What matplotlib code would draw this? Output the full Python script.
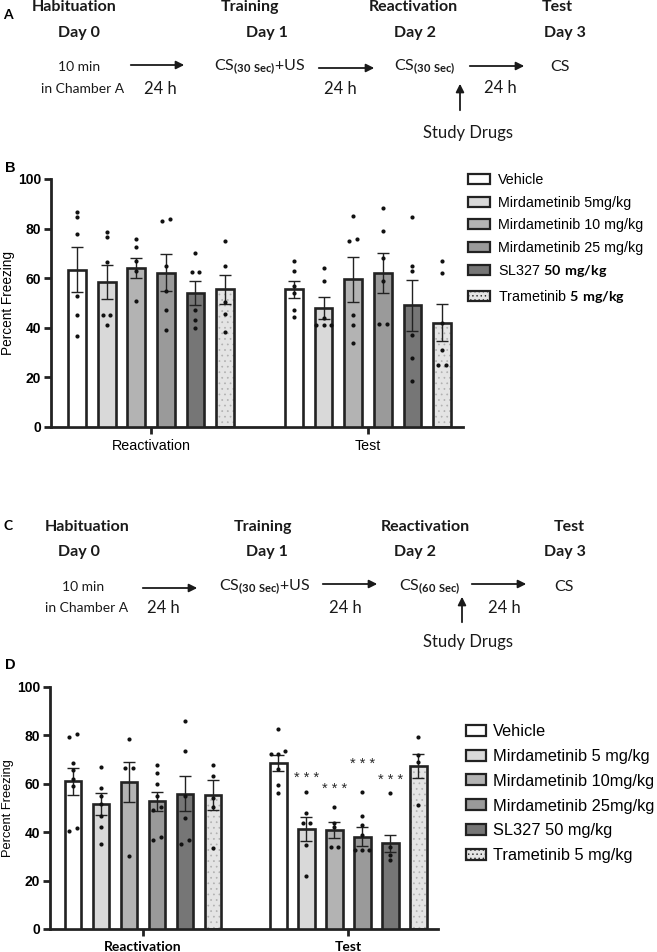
import numpy as np
import matplotlib
matplotlib.use("Agg")
import matplotlib.pyplot as plt
from matplotlib.patches import Patch, FancyArrowPatch

plt.rcParams['font.family'] = ['Liberation Sans', 'DejaVu Sans']
plt.rcParams['mathtext.fontset'] = 'custom'
plt.rcParams['mathtext.rm'] = 'Lato'
plt.rcParams['mathtext.bf'] = 'Lato:bold'
plt.rcParams['hatch.linewidth'] = 0.5

# ---- data ----
colors = ['#ffffff', '#d9d9d9', '#b3b3b3', '#9a9a9a', '#767676', '#e4e4e4']
labels_b = ["Vehicle", "Mirdametinib 5mg/kg", "Mirdametinib 10 mg/kg",
            "Mirdametinib 25 mg/kg", r"SL327 $\mathbf{50\ mg/kg}$",
            r"Trametinib $\mathbf{5\ mg/kg}$"]
labels_d = ["Vehicle", "Mirdametinib 5 mg/kg", "Mirdametinib 10mg/kg",
            "Mirdametinib 25mg/kg", "SL327 50 mg/kg", "Trametinib 5 mg/kg"]
phases = ["Reactivation", "Test"]

# panel B (30 s reactivation)
b_react_mean = [63.5, 58.5, 64.2, 62.2, 54.0, 55.5]
b_react_sem = [9.0, 7.0, 4.0, 7.5, 5.0, 5.8]
b_react_pts = [[86.5, 84.5, 78, 53, 45, 36.5],
               [78.5, 76.5, 66.5, 45, 45, 41],
               [76, 72.5, 67, 63, 51],
               [83, 84, 65, 55, 47, 39],
               [70, 62.5, 62.5, 47, 43, 40],
               [75, 65, 50.5, 45.5, 38.5]]
b_test_mean = [55.5, 48.0, 59.5, 62.2, 49.0, 42.0]
b_test_sem = [3.5, 4.5, 9.0, 8.0, 10.3, 7.5]
b_test_pts = [[67, 63, 57, 54, 47, 44.5],
              [64, 59, 44, 41, 41, 41],
              [85, 76, 75, 45, 41, 34],
              [88.5, 79, 68, 59, 41.5, 41.5],
              [84.5, 65, 63, 37, 28, 18.5],
              [67, 62, 42, 31, 25, 25]]

# panel D (60 s reactivation)
d_react_mean = [61.0, 51.7, 60.7, 52.7, 55.9, 55.2]
d_react_sem = [5.5, 4.6, 8.2, 4.1, 7.3, 6.2]
d_react_pts = [[80.6, 79.3, 68.6, 65.8, 62, 58.9, 41.9, 40.3],
               [66.9, 58.2, 54.8, 51.7, 46.5, 42.3, 35.2],
               [78.6, 66.5, 66.5, 30.2],
               [67.6, 64.4, 60, 54.8, 50.6, 49, 38.2, 36.8],
               [85.8, 73.7, 54.8, 45.8, 36.8, 35.2],
               [67.6, 63.3, 54.1, 50.6, 33.4]]
d_test_mean = [68.6, 41.4, 41.0, 38.2, 35.4, 67.2]
d_test_sem = [3.3, 5.0, 3.2, 4.1, 3.6, 5.0]
d_test_pts = [[82.8, 73.4, 72.2, 72.2, 66, 59.3, 56.1],
              [56.8, 47.9, 44, 44, 34.8, 21.7],
              [50.6, 44, 42, 34, 34],
              [56.8, 46.5, 43, 38.9, 32.7, 32.7, 32.7],
              [56.1, 34, 30.6, 28.5],
              [79.2, 72, 69.2, 51.3]]
d_test_sig = ['', '* * *', '* * *', '* * *', '* * *', '']
d_test_sig_y = [np.nan, 62.6, 58, 68.3, 61.7, np.nan]

W, H = 657, 952
fig = plt.figure(figsize=(W / 100, H / 100), dpi=100)


def fx(x):
    return x / W


def fy(y):
    return 1 - y / H


def swarm(vals, step=0.26):
    # spread points that sit at about the same height
    vals = np.asarray(vals, float)
    order = np.argsort(vals)
    offs = np.zeros(len(vals))
    clusters = [[order[0]]]
    for i in order[1:]:
        if vals[i] - vals[clusters[-1][-1]] < 2.0:
            clusters[-1].append(i)
        else:
            clusters.append([i])
    for c in clusters:
        n = len(c)
        for k, i in enumerate(c):
            offs[i] = (k - (n - 1) / 2) * step
    return offs


def bar_panel(ax, means, sems, pts, gap, xlim, tfs):
    react_x = np.arange(6)
    test_x = np.arange(6) + gap
    for xs, m, s, p in [(react_x, means[0], sems[0], pts[0]),
                        (test_x, means[1], sems[1], pts[1])]:
        for i in range(6):
            if i == 5:
                ax.bar(xs[i], m[i], width=0.6, color=colors[i], edgecolor='#b0b0b0',
                       linewidth=0, hatch='...', zorder=2)
                ax.bar(xs[i], m[i], width=0.6, fill=False, edgecolor='#222222',
                       linewidth=1.9, zorder=3)
            else:
                ax.bar(xs[i], m[i], width=0.6, color=colors[i], edgecolor='#222222',
                       linewidth=1.9, zorder=3)
        ax.errorbar(xs, m, yerr=s, fmt='none', ecolor='#222222', elinewidth=1.0,
                    capsize=4.5, capthick=1.0, zorder=4)
        for i in range(6):
            ax.scatter(xs[i] + swarm(p[i]), p[i], s=9, color='#111111', zorder=5,
                       linewidths=0)
    ax.set_xlim(*xlim)
    ax.set_ylim(0, 100)
    ax.set_yticks([0, 20, 40, 60, 80, 100])
    ax.set_xticks([react_x.mean(), test_x.mean()])
    ax.spines['top'].set_visible(False)
    ax.spines['right'].set_visible(False)
    for sp in ['left', 'bottom']:
        ax.spines[sp].set_linewidth(2.0)
        ax.spines[sp].set_color('#222222')
    ax.tick_params(axis='both', width=2.0, length=5, color='#222222')
    ax.tick_params(axis='y', pad=2)
    for t in ax.get_yticklabels():
        t.set_fontweight('bold')
        t.set_fontsize(10)
    ax.set_ylabel("Percent Freezing", fontsize=tfs, labelpad=2)
    return react_x, test_x


# ---- panel B ----
axB = fig.add_axes([fx(51), fy(427), fx(412), 248 / H])
bar_panel(axB, (b_react_mean, b_test_mean), (b_react_sem, b_test_sem),
          (b_react_pts, b_test_pts), 7.33, (-0.88, 13.04), 9.8)
axB.set_xticklabels(phases, fontsize=10.3)

# ---- panel D ----
axD = fig.add_axes([fx(50), fy(929), fx(388), 242 / H])
rx, tx = bar_panel(axD, (d_react_mean, d_test_mean), (d_react_sem, d_test_sem),
                   (d_react_pts, d_test_pts), 7.33, (-0.82, 13.04), 9.3)
axD.set_xticklabels(phases, fontsize=10, fontweight='bold', family='Lato')
for i in range(6):
    if d_test_sig[i]:
        axD.text(tx[i], d_test_sig_y[i], d_test_sig[i], ha='center', va='center',
                 fontsize=10.5, color='#2a2a2a')


# ---- legends ----
def handles():
    hs = []
    for i, c in enumerate(colors):
        hs.append(Patch(facecolor=c, edgecolor='#222222', linewidth=1.6,
                        hatch='....' if i == 5 else None))
    return hs


fig.legend(handles(), labels_b, loc='upper left', bbox_to_anchor=(fx(468), fy(173)),
           frameon=False, fontsize=10.3, handlelength=1.55, handleheight=0.7,
           handletextpad=0.55, labelspacing=0.6, borderpad=0, borderaxespad=0)
fig.legend(handles(), labels_d, loc='upper left', bbox_to_anchor=(fx(466), fy(724)),
           frameon=False, fontsize=11.8, handlelength=1.2, handleheight=0.65,
           handletextpad=0.45, labelspacing=0.6, borderpad=0, borderaxespad=0)


# ---- protocol timelines ----
def txt(x, y, s, size, bold=False):
    fig.text(fx(x), fy(y), s, ha='center', va='center', fontsize=size,
             fontweight='bold' if bold else 'normal', family='Lato', color='#1a1a1a')


def arrow(x0, y0, x1, y1):
    fig.add_artist(FancyArrowPatch(
        (fx(x0), fy(y0)), (fx(x1), fy(y1)), transform=fig.transFigure,
        arrowstyle='-|>', mutation_scale=12, lw=1.3, color='#1a1a1a'))


def timeline(heads_x, days_x, rows_y, left_x, cs_x, cs2):
    yt, yd, yc, yh = rows_y
    for x, s in zip(heads_x, ["Habituation", "Training", "Reactivation", "Test"]):
        txt(x, yt, s, 11.5, True)
    for x, s in zip(days_x, ["Day 0", "Day 1", "Day 2", "Day 3"]):
        txt(x, yd, s, 11.5, True)
    txt(left_x[0], yc, "10 min", 10)
    txt(left_x[1], yh, "in Chamber A", 10)
    txt(cs_x[0], yc, r"CS$_{\mathbf{(30\ Sec)}}$+US", 11.5)
    txt(cs_x[1], yc, cs2, 11.5)
    txt(cs_x[2], yc, "CS", 11.5)


# panel A
fig.text(fx(3), fy(15), "A", fontsize=10, fontweight='bold', va='center', family='Lato')
timeline((74, 250, 413, 557), (79, 267, 415, 565), (7, 33, 67, 89), (79, 83),
         (260, 425, 560), r"CS$_{\mathbf{(30\ Sec)}}$")
arrow(128, 65, 187, 65)
arrow(316, 68, 377, 68)
arrow(467, 66, 527, 66)
txt(160, 89, "24 h", 12)
txt(340, 89, "24 h", 12)
txt(500, 88, "24 h", 12)
arrow(460, 113, 460, 81)
txt(468, 133, "Study Drugs", 12)

# panel C
fig.text(fx(3), fy(526), "C", fontsize=10, fontweight='bold', va='center', family='Lato')
timeline((87, 263, 425, 569), (79, 267, 415, 565), (527, 552, 587, 608), (83, 87),
         (265, 430, 564), r"CS$_{\mathbf{(60\ Sec)}}$")
arrow(140, 588, 200, 588)
arrow(320, 584, 380, 584)
arrow(469, 584, 529, 584)
txt(163, 608, "24 h", 12)
txt(345, 608, "24 h", 12)
txt(504, 608, "24 h", 12)
arrow(462, 625, 462, 594)
txt(468, 642, "Study Drugs", 12)

fig.text(fx(5), fy(168), "B", fontsize=10.5, fontweight='bold', va='center')
fig.text(fx(5), fy(665), "D", fontsize=10.5, fontweight='bold', va='center')

fig.savefig("out.png", dpi=100, facecolor='white')
